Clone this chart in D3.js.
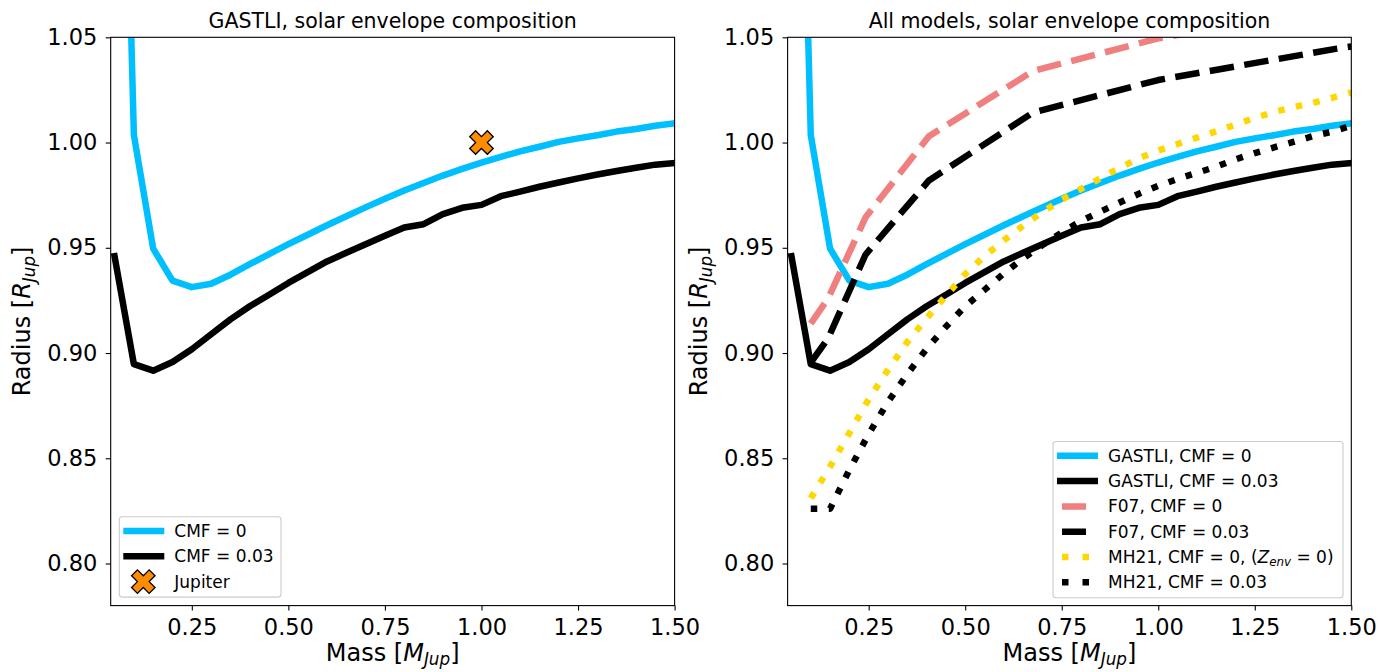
<!DOCTYPE html>
<html>
<head>
<meta charset="utf-8">
<script src="https://cdn.jsdelivr.net/npm/d3@7"></script>
<style>
body { margin: 0; background: #fff; }
svg text { font-family: "DejaVu Sans", sans-serif; fill: #000; }
</style>
</head>
<body>
<svg id="chart" width="1392" height="672"></svg>
<script>
// GASTLI grid (M_Jup) and radii (R_Jup)
const gastliMass = [0.05, 0.10, 0.15, 0.20, 0.25, 0.30, 0.35, 0.40, 0.45, 0.50,
    0.55, 0.60, 0.65, 0.70, 0.75, 0.80, 0.85, 0.90, 0.95, 1.00,
    1.05, 1.10, 1.15, 1.20, 1.25, 1.30, 1.35, 1.40, 1.45, 1.50];
const gastliCmf0 = [1.350, 1.0036, 0.9496, 0.9344, 0.9313, 0.9329, 0.9372, 0.9422, 0.9470, 0.9517,
    0.9562, 0.9607, 0.9650, 0.9692, 0.9733, 0.9772, 0.9808, 0.9843, 0.9875, 0.9905,
    0.9932, 0.9958, 0.9980, 1.0003, 1.0020, 1.0035, 1.0052, 1.0064, 1.0080, 1.0091];
const gastliCmf003 = [0.9460, 0.8947, 0.8916, 0.8957, 0.9018, 0.9089, 0.9160, 0.9222, 0.9277, 0.9333,
    0.9384, 0.9435, 0.9476, 0.9517, 0.9557, 0.9596, 0.9612, 0.9660, 0.9690, 0.9704,
    0.9745, 0.9767, 0.9790, 0.9810, 0.9830, 0.9848, 0.9865, 0.9880, 0.9895, 0.9903];

// Fortney et al. 2007
const f07Mass = [0.10, 0.145, 0.242, 0.406, 0.676, 1.00, 1.459, 1.50];
const f07Cmf0 = [0.914, 0.926, 0.9645, 1.003, 1.034, 1.0495, 1.064, 1.065];
const f07Cmf003 = [0.8955, 0.907, 0.9468, 0.982, 1.0143, 1.0297, 1.0445, 1.0456];

// MH21
const mh21Mass = [0.10, 0.15, 0.20, 0.25, 0.30, 0.35, 0.40, 0.45, 0.50, 0.55,
    0.60, 0.65, 0.70, 0.75, 0.80, 0.85, 0.90, 0.95, 1.00, 1.05,
    1.10, 1.15, 1.20, 1.25, 1.30, 1.35, 1.40, 1.45, 1.50];
const mh21Cmf0 = [0.831, 0.846, 0.862, 0.878, 0.892, 0.9052, 0.9165, 0.9272, 0.9375, 0.9460,
    0.9535, 0.9605, 0.9670, 0.9728, 0.9780, 0.9830, 0.9880, 0.9925, 0.9962, 0.9993,
    1.0023, 1.0053, 1.0085, 1.0117, 1.0145, 1.0168, 1.0188, 1.0212, 1.0238];
const mh21Cmf003 = [0.826, 0.826, 0.8445, 0.8615, 0.8768, 0.8900, 0.9020, 0.9125, 0.9222, 0.9300,
    0.9378, 0.9450, 0.9513, 0.9573, 0.9627, 0.9672, 0.9715, 0.9757, 0.9794, 0.9827,
    0.9856, 0.9885, 0.9920, 0.9950, 0.9977, 1.0003, 1.0030, 1.0052, 1.0080];

const jupiterMass = [1.0];
const jupiterRadius = [1.0];

const xTicks = [0.25, 0.50, 0.75, 1.00, 1.25, 1.50];
const yTicks = [0.80, 0.85, 0.90, 0.95, 1.00, 1.05];

const zip = (xs, ys) => xs.map((v, i) => [v, ys[i]]);

const LW = 6.5;
const DASH = "24.5,10.5";
const DOT = LW + ",11.5";

const gastli = [
    {label: [["GASTLI, CMF = 0"]], short: [["CMF = 0"]], data: zip(gastliMass, gastliCmf0), color: "#00bfff", dash: null},
    {label: [["GASTLI, CMF = 0.03"]], short: [["CMF = 0.03"]], data: zip(gastliMass, gastliCmf003), color: "#000", dash: null}
];
const others = [
    {label: [["F07, CMF = 0"]], data: zip(f07Mass, f07Cmf0), color: "#f08080", dash: DASH, legendDash: "0,5,24,12"},
    {label: [["F07, CMF = 0.03"]], data: zip(f07Mass, f07Cmf003), color: "#000", dash: DASH, legendDash: "0,5,24,12"},
    {label: [["MH21, CMF = 0, ("], ["Z", "i"], ["env", "sub"], [" = 0)"]], data: zip(mh21Mass, mh21Cmf0), color: "#ffd700", dash: DOT, legendDash: "0,5," + LW + ",14," + LW + ",20"},
    {label: [["MH21, CMF = 0.03"]], data: zip(mh21Mass, mh21Cmf003), color: "#000", dash: DOT, legendDash: "0,5," + LW + ",14," + LW + ",20"}
];

const svg = d3.select("#chart");
const axTop = 37.3, axBottom = 605.6;

// filled "X" marker like matplotlib
const xPts = [[0.25,0],[0.5,0.25],[0.75,0],[1,0.25],[0.75,0.5],[1,0.75],[0.75,1],[0.5,0.75],[0.25,1],[0,0.75],[0.25,0.5],[0,0.25]];
const xMarker = s => "M" + xPts.map(p => [(p[0]-0.5)*s, (p[1]-0.5)*s].join(",")).join("L") + "Z";

function rich(sel, parts, fs, subShift = 0.2) {
    let shift = 0;
    parts.forEach(([txt, kind]) => {
        const t = sel.append("tspan").text(txt);
        const target = kind === "sub" ? subShift * fs : 0;
        t.attr("dy", target - shift);
        shift = target;
        if (kind === "sub") t.attr("font-size", fs * 0.7).attr("font-style", "italic");
        if (kind === "i") t.attr("font-style", "italic");
    });
}

function drawPanel(idx, left, right, title, series, showJupiter) {
    const x = d3.scaleLinear().domain([0.04, 1.5]).range([left, right]);
    const y = d3.scaleLinear().domain([0.78, 1.05]).range([axBottom, axTop]);
    const g = svg.append("g");

    g.append("clipPath").attr("id", "clip" + idx)
        .append("rect").attr("x", left).attr("y", axTop).attr("width", right - left).attr("height", axBottom - axTop);

    const line = d3.line().x(d => x(d[0])).y(d => y(d[1]));
    const lines = g.append("g").attr("clip-path", `url(#clip${idx})`);
    series.forEach(s => {
        lines.append("path")
            .attr("d", line(s.data))
            .attr("fill", "none")
            .attr("stroke", s.color)
            .attr("stroke-width", LW)
            .attr("stroke-linejoin", "round")
            .attr("stroke-linecap", s.dash ? "butt" : "square")
            .attr("stroke-dasharray", s.dash);
    });

    if (showJupiter) {
        lines.selectAll("path.jup").data(zip(jupiterMass, jupiterRadius)).enter()
            .append("path").attr("class", "jup")
            .attr("d", xMarker(23.5))
            .attr("transform", d => `translate(${x(d[0])},${y(d[1])})`)
            .attr("fill", "#ff8c00").attr("stroke", "#000").attr("stroke-width", 1.3)
            .attr("stroke-linejoin", "miter");
    }

    // axes
    const xa = g.append("g").attr("transform", `translate(0,${axBottom})`)
        .call(d3.axisBottom(x).tickValues(xTicks).tickFormat(d3.format(".2f")).tickSize(5).tickPadding(8));
    const ya = g.append("g").attr("transform", `translate(${left},0)`)
        .call(d3.axisLeft(y).tickValues(yTicks).tickFormat(d3.format(".2f")).tickSize(5).tickPadding(8.4));
    [xa, ya].forEach(a => {
        a.select(".domain").remove();
        a.attr("font-family", null).attr("font-size", null);
        a.selectAll("line").attr("stroke", "#000").attr("stroke-width", 1.1);
        a.selectAll("text").attr("font-size", 22.5);
    });

    g.append("rect").attr("x", left).attr("y", axTop).attr("width", right - left).attr("height", axBottom - axTop)
        .attr("fill", "none").attr("stroke", "#000").attr("stroke-width", 1.1);

    // titles
    g.append("text").attr("x", (left + right) / 2).attr("y", 27.5).attr("text-anchor", "middle")
        .attr("font-size", 20.5).text(title);
    const xl = g.append("text").attr("x", (left + right) / 2).attr("y", 661).attr("text-anchor", "middle").attr("font-size", 24);
    rich(xl, [["Mass ["], ["M", "i"], ["Jup", "sub"], ["]"]], 24, 0.15);
    const yl = g.append("text").attr("transform", `translate(${left - 80.3},${(axTop + axBottom) / 2}) rotate(-90)`)
        .attr("text-anchor", "middle").attr("font-size", 24);
    rich(yl, [["Radius ["], ["R", "i"], ["Jup", "sub"], ["]"]], 24);

    return {x, y, g};
}

function drawLegend(g, bx, by, bw, rows, entries) {
    const lg = g.append("g");
    lg.append("rect").attr("x", bx).attr("y", by).attr("width", bw).attr("height", rows * 25.3 + 4.5)
        .attr("rx", 3).attr("fill", "#fff").attr("fill-opacity", 0.8)
        .attr("stroke", "#cccccc").attr("stroke-width", 1.1);
    entries.forEach((e, i) => {
        const cy = by + 14.3 + i * 25.3;
        const lx = bx + 4;
        if (e.marker) {
            lg.append("path").attr("d", xMarker(23.5)).attr("transform", `translate(${lx + 20},${cy})`)
                .attr("fill", "#ff8c00").attr("stroke", "#000").attr("stroke-width", 1.3);
        } else {
            lg.append("line").attr("x1", lx).attr("x2", lx + 41).attr("y1", cy).attr("y2", cy)
                .attr("stroke", e.color).attr("stroke-width", LW)
                .attr("stroke-dasharray", e.legendDash || null);
        }
        const t = lg.append("text").attr("x", lx + 51).attr("y", cy + 6).attr("font-size", 17);
        rich(t, e.label, 17);
    });
}

// left panel
const p1 = drawPanel(1, 110.7, 674.6, "GASTLI, solar envelope composition", gastli, true);
drawLegend(p1.g, 119.3, 516.7, 161.7, 3, [
    {label: gastli[0].short, color: gastli[0].color},
    {label: gastli[1].short, color: gastli[1].color},
    {label: [["Jupiter"]], marker: true}
]);

// right panel
const p2 = drawPanel(2, 787.6, 1351.3, "All models, solar envelope composition", gastli.concat(others), false);
drawLegend(p2.g, 1053, 441.5, 290, 6, gastli.concat(others).map(s => ({label: s.label, color: s.color, legendDash: s.legendDash})));
</script>
</body>
</html>
